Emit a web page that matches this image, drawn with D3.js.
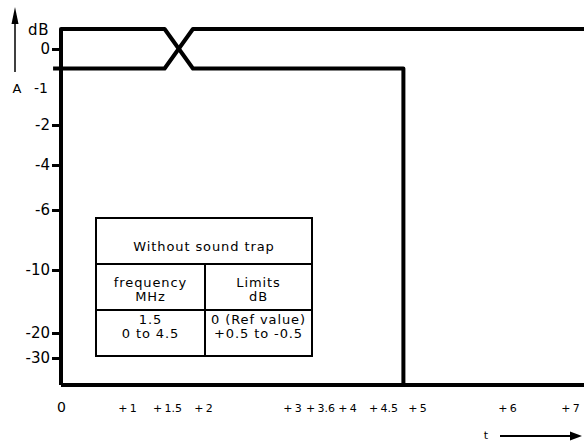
<!DOCTYPE html>
<html>
<head>
<meta charset="utf-8">
<script src="https://cdn.jsdelivr.net/npm/d3@7"></script>
<style>
  html, body { margin: 0; padding: 0; background: #fff; }
  svg { display: block; font-family: "DejaVu Sans", Verdana, sans-serif; }
</style>
</head>
<body>
<svg id="chart" width="584" height="441"></svg>
<script>
// ---- data ----
const xTickValues = [0, 1, 1.5, 2, 3, 3.6, 4, 4.5, 5, 6, 7];
const xTickLabels = ["0", "+\u20091", "+\u20091.5", "+\u20092", "+\u20093", "+\u20093.6", "+\u20094", "+\u20094.5", "+\u20095", "+\u20096", "+\u20097"];
const yTickValues = [0, -1, -2, -4, -6, -10, -20, -30];
const yTickLabels = ["0", "-1", "-2", "-4", "-6", "-10", "-20", "-30"];
const yFloor = -40;           // bottom of the mask (t axis)
// mask outlines (t in MHz, level in dB)
const upperMaskT = [0, 0, 1.47, 1.86, 4.8, 4.8];
const upperMaskA = [yFloor, 0.5, 0.5, -0.5, -0.5, yFloor];
const lowerMaskT = [-0.12, 1.47, 1.86, 7.25];
const lowerMaskA = [-0.5, -0.5, 0.5, 0.5];
const baseT = [0, 7.25];
const baseA = [yFloor, yFloor];
// table
const tableTitle = "Without sound trap";
const tableHeader = [["frequency", "MHz"], ["Limits", "dB"]];
const tableRow = [["1.5", "0 to 4.5"], ["0 (Ref value)", "+0.5 to -0.5"]];

// ---- scales (schematic, piecewise-linear axes) ----
const x = d3.scaleLinear()
  .domain(xTickValues)
  .range([61, 127, 167, 203, 292, 320, 347, 383, 417, 507, 570]);
const y = d3.scaleLinear()
  .domain([0.5, 0, -1, -2, -4, -6, -10, -20, -30, yFloor])
  .range([29, 49, 88, 125, 165, 210, 270, 333, 358, 385]);

const FONT = "'DejaVu Sans', Verdana, sans-serif";
const svg = d3.select("#chart");

// ---- axes ----
const yAxis = d3.axisLeft(y)
  .tickValues(yTickValues)
  .tickFormat((d, i) => yTickLabels[i])
  .tickSize(9)
  .tickPadding(2);
const gy = svg.append("g").attr("transform", `translate(${x(0)},0)`).call(yAxis);
gy.select(".domain").remove();
gy.selectAll(".tick line").attr("stroke", "#000").attr("stroke-width", 3)
  .attr("display", d => d === -1 ? "none" : null);
gy.selectAll(".tick text").attr("font-size", 15).attr("fill", "#000")
  .attr("font-family", FONT).attr("x", -11);
gy.selectAll(".tick").filter(d => d === -1).select("text").attr("font-size", 14).attr("x", -13);
gy.selectAll(".tick").filter(d => d === 0).select("text").attr("font-size", 15).attr("x", -11);

const xAxis = d3.axisBottom(x)
  .tickValues(xTickValues)
  .tickFormat((d, i) => xTickLabels[i])
  .tickSize(0)
  .tickPadding(0);
const gx = svg.append("g").attr("transform", "translate(0,404)").call(xAxis);
gx.select(".domain").remove();
gx.selectAll(".tick text").attr("font-size", 11).attr("fill", "#000")
  .attr("font-family", FONT);
gx.selectAll(".tick").filter(d => d === 0).select("text").attr("font-size", 14).attr("dy", "0.6em");

// ---- mask lines ----
const line = d3.line().x(d => x(d[0])).y(d => y(d[1]));
function pts(ts, as) { return ts.map((t, i) => [t, as[i]]); }
[[upperMaskT, upperMaskA], [lowerMaskT, lowerMaskA], [baseT, baseA]].forEach(([ts, as]) => {
  svg.append("path")
    .attr("d", line(pts(ts, as)))
    .attr("fill", "none")
    .attr("stroke", "#000")
    .attr("stroke-width", 4)
    .attr("stroke-linejoin", "round");
});

// ---- y axis label + arrow ----
svg.append("line").attr("x1", 15).attr("y1", 72).attr("x2", 15).attr("y2", 20)
  .attr("stroke", "#000").attr("stroke-width", 1.5);
svg.append("path").attr("d", "M15,7 L11.5,24 L18.5,24 Z").attr("fill", "#000");
svg.append("text").attr("x", 28).attr("y", 35).attr("font-size", 15).attr("letter-spacing", 0.8).text("dB");
svg.append("text").attr("x", 17).attr("y", 93).attr("font-size", 13).attr("text-anchor", "middle").text("A");

// ---- t label + arrow ----
svg.append("text").attr("x", 486).attr("y", 439).attr("font-size", 11).attr("text-anchor", "middle").text("t");
svg.append("line").attr("x1", 500).attr("y1", 436).attr("x2", 572).attr("y2", 436)
  .attr("stroke", "#000").attr("stroke-width", 2);
svg.append("path").attr("d", "M582,436 L570,431.5 L570,440.5 Z").attr("fill", "#000");

// ---- table ----
const tb = { x0: 96, x1: 312, xm: 205, y0: 218, y1: 264, y2: 310, y3: 356 };
const tg = svg.append("g").attr("stroke", "#000").attr("stroke-width", 2).attr("fill", "none");
tg.append("rect").attr("x", tb.x0).attr("y", tb.y0).attr("width", tb.x1 - tb.x0).attr("height", tb.y3 - tb.y0).attr("fill", "#fff");
tg.append("line").attr("x1", tb.x0).attr("x2", tb.x1).attr("y1", tb.y1).attr("y2", tb.y1);
tg.append("line").attr("x1", tb.x0).attr("x2", tb.x1).attr("y1", tb.y2).attr("y2", tb.y2);
tg.append("line").attr("x1", tb.xm).attr("x2", tb.xm).attr("y1", tb.y1).attr("y2", tb.y3);

const tt = svg.append("g").attr("font-size", 13).attr("letter-spacing", 0.9)
  .attr("text-anchor", "middle").attr("fill", "#000");
tt.append("text").attr("x", (tb.x0 + tb.x1) / 2).attr("y", 251).text(tableTitle);
const colC = [(tb.x0 + tb.xm) / 2, (tb.xm + tb.x1) / 2];
tableHeader.forEach((lines, c) => {
  tt.append("text").attr("x", colC[c]).attr("y", 287).text(lines[0]);
  tt.append("text").attr("x", colC[c]).attr("y", 301).text(lines[1]);
});
tableRow.forEach((lines, c) => {
  tt.append("text").attr("x", colC[c]).attr("y", 324).text(lines[0]);
  tt.append("text").attr("x", colC[c]).attr("y", 338).text(lines[1]);
});
</script>
</body>
</html>
